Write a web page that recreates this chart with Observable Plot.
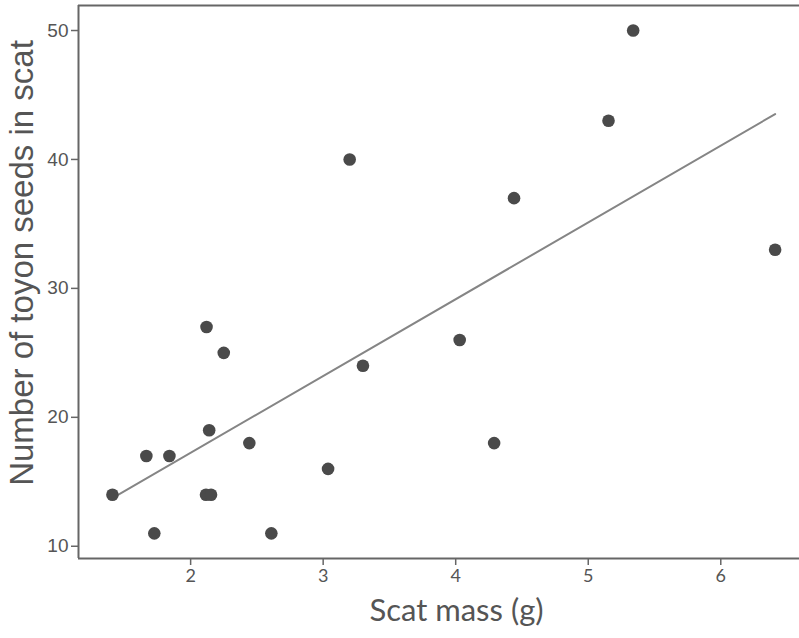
<!DOCTYPE html>
<html>
<head>
<meta charset="utf-8">
<script src="https://cdn.jsdelivr.net/npm/d3@7"></script>
<script src="https://cdn.jsdelivr.net/npm/@observablehq/plot@0.6"></script>
<style>
  html, body { margin: 0; padding: 0; background: #fff; overflow: hidden; }
  #chart { width: 799px; height: 638px; overflow: hidden; }
  #chart svg { overflow: hidden !important; }
</style>
</head>
<body>
<div id="chart"></div>
<script>
const scatMass = [1.41, 1.666, 1.84, 1.726, 2.14, 2.116, 2.154, 2.443, 2.609, 3.037,
                  2.12, 2.25, 3.30, 3.20, 4.03, 4.29, 4.44, 5.153, 5.339, 6.41];
const seeds    = [14, 17, 17, 11, 19, 14, 14, 18, 11, 16,
                  27, 25, 24, 40, 26, 18, 37, 43, 50, 33];
const xTicks = [2, 3, 4, 5, 6];
const yTicks = [10, 20, 30, 40, 50];
const xLabel = "Scat mass (g)";
const yLabel = "Number of toyon seeds in scat";

const xDomain = [1.154, 6.858];
const yDomain = [9.05, 51.94];

const data = scatMass.map((m, i) => ({mass: m, seeds: seeds[i]}));

const chart = Plot.plot({
  width: 799,
  height: 638,
  marginLeft: 78,
  marginTop: 5,
  marginBottom: 80,
  marginRight: -35,
  x: {domain: xDomain},
  y: {domain: yDomain},
  style: {background: "#fff", overflow: "hidden"},
  marks: [
    Plot.axisX({ticks: xTicks, tickFormat: d3.format("d"), tickSize: 7, tickPadding: 4, fontSize: 18,
                label: null, stroke: "#666", fill: "#555", fontFamily: "Lato", strokeWidth: 1.5}),
    Plot.axisY({ticks: yTicks, tickFormat: d3.format("d"), tickSize: 7, tickPadding: 3, fontSize: 19,
                label: null, stroke: "#666", fill: "#555", fontFamily: "Liberation Sans", strokeWidth: 1.5}),
    Plot.ruleY([yDomain[0], yDomain[1]], {stroke: "#666", strokeWidth: 2}),
    Plot.ruleX([xDomain[0]], {stroke: "#666", strokeWidth: 2}),
    Plot.linearRegressionY(data, {x: "mass", y: "seeds", ci: 0, stroke: "#858585", strokeWidth: 2}),
    Plot.dot(data, {x: "mass", y: "seeds", r: 6.3, fill: "#4a4a4a", stroke: "none"}),
    Plot.text([xLabel], {frameAnchor: "bottom", dy: 62, fontSize: 31, fill: "#555",
                         fontFamily: "Lato", text: d => d}),
    Plot.text([yLabel], {frameAnchor: "left", textAnchor: "middle", dx: -56, dy: -19, rotate: -90,
                         fontSize: 33, fill: "#555", fontFamily: "Liberation Sans", text: d => d})
  ]
});
document.getElementById("chart").appendChild(chart);
</script>
</body>
</html>
